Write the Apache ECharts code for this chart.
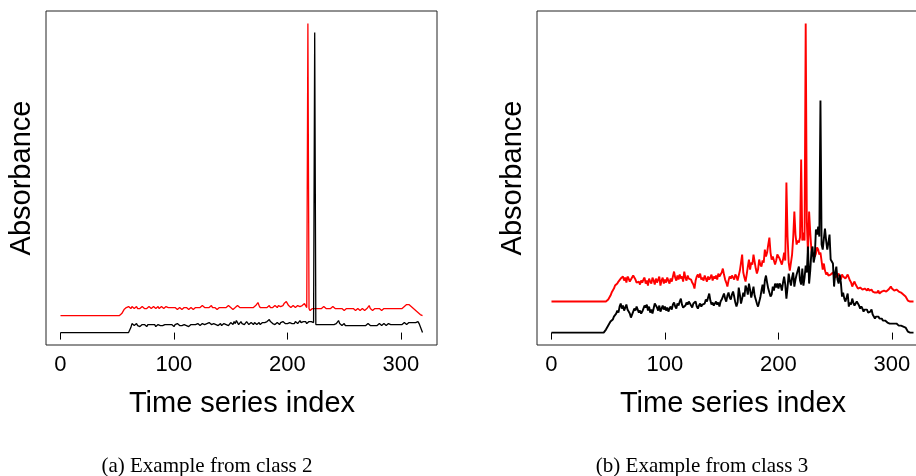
<!DOCTYPE html>
<html><head><meta charset="utf-8">
<script src="https://cdn.jsdelivr.net/npm/echarts@6/dist/echarts.min.js"></script>
<style>html,body{margin:0;padding:0;background:#fff}#c{width:916px;height:476px}</style>
</head><body><div id="c"></div>
<script>
// Tick labels of the time-series index axis
const xTicks = [0, 100, 200, 300];

// Panel (a) class 2 — black series (index 0..319), arbitrary absorbance units
const class2Black = [
0,0,0,0,0,0,0,0,0,0,0,0,0,0,0,0,0,0,0,0,
0,0,0,0,0,0,0,0,0,0,0,0,0,0,0,0,0,0,0,0,
0,0,0,0,0,0,0,0,0,0,0,0,0,0,0,0,0,0,0,0,
0,0,5,9,8,7,8,9,7,8,6,7,8,9,8,7,6,8,7,8,
9,8,7,8,6,7,8,9,7,8,7,6,8,7,8,9,8,7,8,7,
6,8,7,9,8,7,8,7,6,8,9,7,8,6,7,8,9,8,7,8,
7,9,8,7,8,9,10,8,7,9,8,10,9,8,7,9,10,8,9,7,
8,9,7,8,9,10,8,9,7,8,10,9,8,11,9,12,10,8,9,11,
9,10,8,9,11,10,8,9,10,9,8,10,9,8,9,10,8,9,10,9,
10,9,11,12,13,11,10,9,10,8,9,10,9,8,10,9,11,10,9,10,
9,8,10,11,9,10,9,11,10,9,10,12,10,9,11,10,11,9,10,11,
10,11,12,10,300,8,7,8,9,8,7,8,9,8,7,8,9,8,7,8,
9,8,7,9,10,12,9,8,7,8,9,7,8,7,6,7,8,7,6,7,
8,7,6,7,8,7,8,7,6,7,8,9,8,7,8,7,8,7,8,7,
8,9,8,7,8,9,8,7,8,9,10,8,7,8,9,8,7,8,9,8,
9,8,9,10,9,8,9,10,9,10,11,10,9,10,11,11,9,6,3,0
];

// Panel (a) class 2 — red series
const class2Red = [
17,17,17,17,17,17,17,17,17,17,17,17,17,17,17,17,17,17,17,17,
17,17,17,17,17,17,17,17,17,17,17,17,17,17,17,17,17,17,17,17,
17,17,17,17,17,17,17,17,17,17,17,17,17,18,19,21,23,24,25,24,
26,25,24,26,25,24,25,26,24,25,24,25,26,25,24,25,24,25,26,25,
24,25,26,25,24,25,26,24,25,26,25,24,25,26,27,25,24,25,26,25,
24,25,24,23,24,25,24,23,24,25,26,25,24,23,24,25,24,23,24,25,
26,25,24,25,26,27,26,25,24,25,26,25,26,27,25,24,25,24,23,24,
25,24,25,26,25,24,25,26,27,26,25,24,23,24,25,26,27,26,25,24,
25,24,25,26,25,24,25,26,25,24,25,26,27,28,30,27,25,24,25,26,
25,24,25,26,27,25,24,25,26,27,26,25,27,28,26,25,27,29,30,31,
29,27,26,25,26,27,26,25,26,27,28,26,25,27,26,29,27,25,309,24,
22,23,24,25,24,23,24,25,24,23,24,25,26,25,24,23,24,25,24,25,
26,25,24,23,24,25,24,23,24,23,22,23,24,23,24,25,24,23,24,23,
22,23,24,23,22,23,24,23,22,23,24,25,27,24,23,22,23,24,23,24,
23,24,23,22,23,24,25,24,23,24,25,24,23,24,23,24,25,24,23,24,
25,24,25,26,27,28,27,28,27,26,25,24,23,22,21,20,19,18,17,17
];

// Panel (b) class 3 — black series
const class3Black = [
0,0,0,0,0,0,0,0,0,0,0,0,0,0,0,0,0,0,0,0,
0,0,0,0,0,0,0,0,0,0,0,0,0,0,0,0,0,0,0,0,
0,0,0,0,0,0,0,1,3,5,7,9,11,10,13,16,15,19,22,20,
26,29,24,27,22,25,28,23,21,19,15,18,21,24,22,26,23,20,22,19,
21,24,27,25,28,22,26,20,23,19,24,29,30,25,22,27,21,24,27,23,
26,22,25,21,24,26,23,28,30,26,24,29,27,31,34,28,25,24,27,30,
28,31,30,27,25,29,28,31,26,24,27,29,26,28,27,29,33,31,35,39,
32,28,30,27,29,31,28,30,26,31,33,36,39,34,31,37,40,35,33,38,
41,36,30,26,30,45,38,29,34,40,36,47,44,38,49,43,35,40,46,37,
33,29,26,27,35,42,48,39,52,57,50,44,40,36,38,46,42,49,45,49,
44,49,47,42,50,56,48,34,45,59,52,47,55,60,46,53,58,62,66,52,
48,64,47,55,67,60,86,49,62,80,86,70,76,103,98,106,96,232,88,83,
94,104,92,83,90,98,73,72,69,46,60,66,53,49,58,50,36,40,34,31,
31,39,26,30,28,34,30,27,26,31,29,27,24,26,24,21,23,22,23,20,
19,21,23,18,17,14,16,15,16,14,13,14,12,11,12,11,10,11,9,10,
9,10,9,8,9,8,7,8,7,7,6,6,5,3,1,0,0,0,0,0
];

// Panel (b) class 3 — red series
const class3Red = [
31,31,31,31,31,31,31,31,31,31,31,31,31,31,31,31,31,31,31,31,
31,31,31,31,31,31,31,31,31,31,31,31,31,31,31,31,31,31,31,31,
31,31,31,31,31,31,31,31,31,31,33,35,37,40,42,44,47,46,49,51,
50,54,53,56,52,55,50,56,54,51,53,55,57,58,53,50,49,51,48,52,
50,53,55,49,52,47,54,51,49,55,52,48,54,50,53,56,47,52,55,49,
53,50,55,52,49,54,51,56,61,55,52,57,53,58,54,56,51,61,55,52,
57,54,55,53,50,48,44,52,56,58,55,59,53,55,52,57,54,51,56,53,
55,58,52,56,54,57,53,59,56,55,60,64,58,53,50,46,52,56,54,57,
55,53,58,56,52,57,62,70,78,60,55,51,58,66,73,63,70,68,78,71,
64,59,63,73,68,66,72,70,83,76,80,88,95,80,73,76,75,68,72,78,
77,74,71,68,73,80,72,150,96,70,62,63,78,95,121,98,88,92,90,95,
173,92,100,92,309,110,79,121,100,83,76,80,76,79,85,83,78,80,79,63,
69,62,58,60,57,56,58,59,60,57,55,54,57,59,55,53,58,56,55,54,
56,58,55,52,50,46,49,51,48,46,44,43,45,44,43,42,44,43,42,44,
42,41,43,41,42,40,41,40,42,39,40,41,40,42,41,41,42,43,44,46,
44,43,42,43,43,42,41,41,40,39,38,37,36,34,32,31,31,31,31,31
];

const captions = ['(a) Example from class 2', '(b) Example from class 3'];
const xTitle = 'Time series index';
const yTitle = 'Absorbance';

const pairs = a => a.map((v, i) => [i, v]);
const X_MIN = -12.76, X_MAX = 331.76, Y_MIN = -12.4, Y_MAX = 321.4;
const SANS = '"Liberation Sans", Arial, Helvetica, sans-serif';
const SERIF = '"Liberation Serif", "Times New Roman", serif';

function xAxis(gi) {
  return {
    gridIndex: gi, type: 'value', min: X_MIN, max: X_MAX,
    splitLine: { show: false },
    axisLine: { show: false },
    axisTick: { show: true, length: 7, customValues: xTicks, lineStyle: { color: '#000', width: 1 } },
    axisLabel: { customValues: xTicks, fontSize: 22, color: '#000', fontFamily: SANS, margin: 9 }
  };
}
function yAxis(gi) {
  return {
    gridIndex: gi, type: 'value', min: Y_MIN, max: Y_MAX,
    splitLine: { show: false }, axisLine: { show: false },
    axisTick: { show: false }, axisLabel: { show: false }
  };
}
function line(gi, data, color, w) {
  return {
    type: 'line', xAxisIndex: gi, yAxisIndex: gi, data: pairs(data),
    showSymbol: false, symbol: 'none', clip: true, animation: false,
    lineStyle: { color: color, width: w }, itemStyle: { color: color }
  };
}
function txt(x, y, text, size, family, rot) {
  return {
    type: 'text', x: x, y: y, rotation: rot || 0, silent: true,
    style: { text: text, fontSize: size, fontFamily: family, fill: '#000',
             align: 'center', verticalAlign: 'middle' }
  };
}

const chart = echarts.init(document.getElementById('c'), null, { renderer: 'canvas' });
chart.setOption({
  animation: false,
  backgroundColor: '#fff',
  grid: [
    { left: 46, top: 11, width: 391, height: 334, show: true, borderColor: '#222', borderWidth: 1,
      backgroundColor: 'transparent', containLabel: false, outerBoundsMode: 'none' },
    { left: 537, top: 11, width: 391, height: 334, show: true, borderColor: '#222', borderWidth: 1,
      backgroundColor: 'transparent', containLabel: false, outerBoundsMode: 'none' }
  ],
  xAxis: [xAxis(0), xAxis(1)],
  yAxis: [yAxis(0), yAxis(1)],
  series: [
    line(0, class2Red, '#ff0000', 1.3),
    line(0, class2Black, '#000000', 1.3),
    line(1, class3Red, '#ff0000', 1.9),
    line(1, class3Black, '#000000', 1.9)
  ],
  graphic: [
    txt(22, 178, yTitle, 29, SANS, Math.PI / 2),
    txt(513, 178, yTitle, 29, SANS, Math.PI / 2),
    txt(242, 404, xTitle, 29, SANS),
    txt(733, 404, xTitle, 29, SANS),
    txt(207, 466, captions[0], 21, SERIF),
    txt(702, 466, captions[1], 21, SERIF)
  ]
});
</script></body></html>
